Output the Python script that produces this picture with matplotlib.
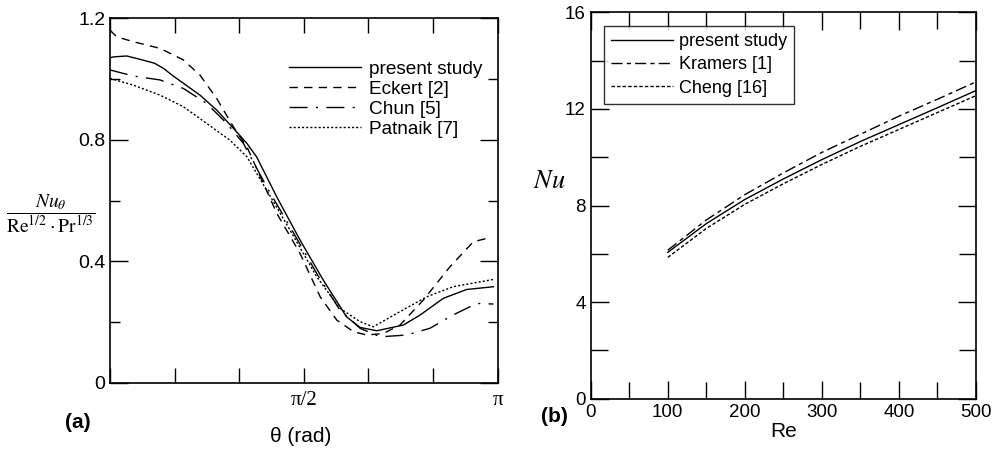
import numpy as np
import matplotlib
matplotlib.use('Agg')
from matplotlib import pyplot as plt

plt.rcParams['font.family'] = ['Liberation Sans', 'DejaVu Sans']
plt.rcParams['mathtext.fontset'] = 'stix'

# panel (a): theta / pi and local Nusselt ratio
present_t = [0.0, 0.009, 0.043, 0.086, 0.115, 0.138, 0.163, 0.232, 0.275, 0.318, 0.353, 0.378, 0.430,
             0.490, 0.550, 0.610, 0.645, 0.688, 0.757, 0.800, 0.860, 0.920, 0.989]
present_v = [1.07, 1.073, 1.076, 1.062, 1.052, 1.035, 1.010, 0.947, 0.898, 0.838, 0.788, 0.744, 0.612,
             0.47, 0.338, 0.217, 0.182, 0.171, 0.19, 0.223, 0.278, 0.307, 0.316]

eckert_t = [0.0, 0.017, 0.060, 0.129, 0.189, 0.232, 0.275, 0.318, 0.353, 0.430, 0.490, 0.542, 0.585,
            0.628, 0.662, 0.705, 0.748, 0.808, 0.877, 0.937, 0.971]
eckert_v = [1.161, 1.139, 1.123, 1.101, 1.063, 1.013, 0.936, 0.843, 0.777, 0.558, 0.426, 0.283, 0.206,
            0.168, 0.157, 0.162, 0.19, 0.272, 0.382, 0.464, 0.475]

chun_t = [0.0, 0.060, 0.129, 0.189, 0.249, 0.301, 0.344, 0.404, 0.464, 0.533, 0.593, 0.645, 0.697,
          0.765, 0.825, 0.885, 0.946, 0.989]
chun_v = [1.03, 1.01, 0.997, 0.969, 0.92, 0.854, 0.788, 0.645, 0.514, 0.36, 0.239, 0.179, 0.151,
          0.157, 0.179, 0.223, 0.261, 0.259]

patnaik_t = [0.0, 0.060, 0.129, 0.189, 0.249, 0.309, 0.353, 0.404, 0.464, 0.533, 0.593, 0.645, 0.679,
             0.748, 0.817, 0.885, 0.989]
patnaik_v = [1.002, 0.98, 0.947, 0.909, 0.854, 0.799, 0.744, 0.634, 0.503, 0.349, 0.245, 0.201, 0.184,
             0.234, 0.283, 0.316, 0.340]

# panel (b): average Nusselt number vs Re
re = [100, 150, 200, 250, 300, 350, 400, 450, 500]
nu_present = [6.06, 7.25, 8.25, 9.1, 9.9, 10.65, 11.35, 12.05, 12.76]
nu_kramers = [6.15, 7.4, 8.45, 9.35, 10.2, 10.95, 11.7, 12.4, 13.12]
nu_cheng = [5.85, 7.05, 8.05, 8.9, 9.7, 10.45, 11.15, 11.85, 12.55]

fig = plt.figure(figsize=(9.95, 4.49), dpi=100)
ax1 = fig.add_axes([0.1106, 0.1477, 0.3896, 0.8115])
ax2 = fig.add_axes([0.5937, 0.112, 0.3872, 0.8606])

lw = 1.0
ax1.plot(np.array(present_t) * np.pi, present_v, color='black', lw=lw, label='present study')
ax1.plot(np.array(eckert_t) * np.pi, eckert_v, color='black', lw=lw, dashes=(6, 4.5), label='Eckert [2]')
ax1.plot(np.array(chun_t) * np.pi, chun_v, color='black', lw=lw, dashes=(13, 6, 1.5, 6), label='Chun [5]')
ax1.plot(np.array(patnaik_t) * np.pi, patnaik_v, color='black', lw=lw, dashes=(1.5, 1.5), label='Patnaik [7]')

ax1.set_xlim(0, np.pi)
ax1.set_ylim(0, 1.2)
ax1.set_xticks(np.arange(7) * np.pi / 6)
ax1.set_xticklabels(['', '', '', 'π/2', '', '', 'π'], fontsize=15, family='Liberation Serif')
ax1.set_yticks([0, 0.4, 0.8, 1.2])
ax1.set_yticklabels(['0', '0.4', '0.8', '1.2'], fontsize=14)
ax1.set_yticks([0.2, 0.6, 1.0], minor=True)
ax1.tick_params(which='both', direction='in', top=True, right=True, width=1)
ax1.tick_params(which='major', length=13)
ax1.tick_params(which='minor', length=7)
ax1.tick_params(axis='x', which='major', length=11, pad=6)
ax1.set_ylabel(r'$\dfrac{Nu_\theta}{\mathrm{Re}^{1/2}\cdot\mathrm{Pr}^{1/3}}$', fontsize=14,
               rotation=0, va='center', ha='center')
ax1.yaxis.set_label_coords(-0.152, 0.465)
ax1.legend(loc='upper right', bbox_to_anchor=(0.98, 0.905), frameon=False, fontsize=13.7,
           handlelength=3.8, handletextpad=0.4, labelspacing=0.14, borderaxespad=0)
fig.text(0.078, 0.058, '(a)', fontsize=15, fontweight='bold', ha='center', va='center')
fig.text(0.302, 0.027, 'θ (rad)', fontsize=15, ha='center', va='center')

ax2.plot(re, nu_present, color='black', lw=lw, label='present study')
ax2.plot(re, nu_kramers, color='black', lw=lw, dashes=(8, 3, 3, 3), label='Kramers [1]')
ax2.plot(re, nu_cheng, color='black', lw=lw, dashes=(2.5, 1.5), label='Cheng [16]')
ax2.set_xlim(0, 500)
ax2.set_ylim(0, 16)
ax2.set_xticks([0, 100, 200, 300, 400, 500])
ax2.set_xticks([50, 150, 250, 350, 450], minor=True)
ax2.set_yticks([0, 4, 8, 12, 16])
ax2.set_yticks([2, 6, 10, 14], minor=True)
ax2.tick_params(which='both', direction='in', top=True, right=True, width=1, labelsize=13.5)
ax2.tick_params(which='major', length=13)
ax2.tick_params(which='minor', length=12)
ax2.set_xlabel('Re', fontsize=15, labelpad=1)
ax2.set_ylabel(r'$Nu$', fontsize=19, rotation=0, va='center', ha='center')
ax2.yaxis.set_label_coords(-0.108, 0.563)
leg = ax2.legend(loc='upper left', bbox_to_anchor=(0.035, 0.965), frameon=True, fancybox=False,
                 fontsize=13, handlelength=3.4, handletextpad=0.35, labelspacing=0.35,
                 borderaxespad=0, borderpad=0.4)
leg.get_frame().set_edgecolor('black')
leg.get_frame().set_linewidth(1.0)
fig.text(0.557, 0.073, '(b)', fontsize=15, fontweight='bold', ha='center', va='center')

for ax in (ax1, ax2):
    for s in ax.spines.values():
        s.set_linewidth(1.2)

fig.savefig('out.png', dpi=100)
